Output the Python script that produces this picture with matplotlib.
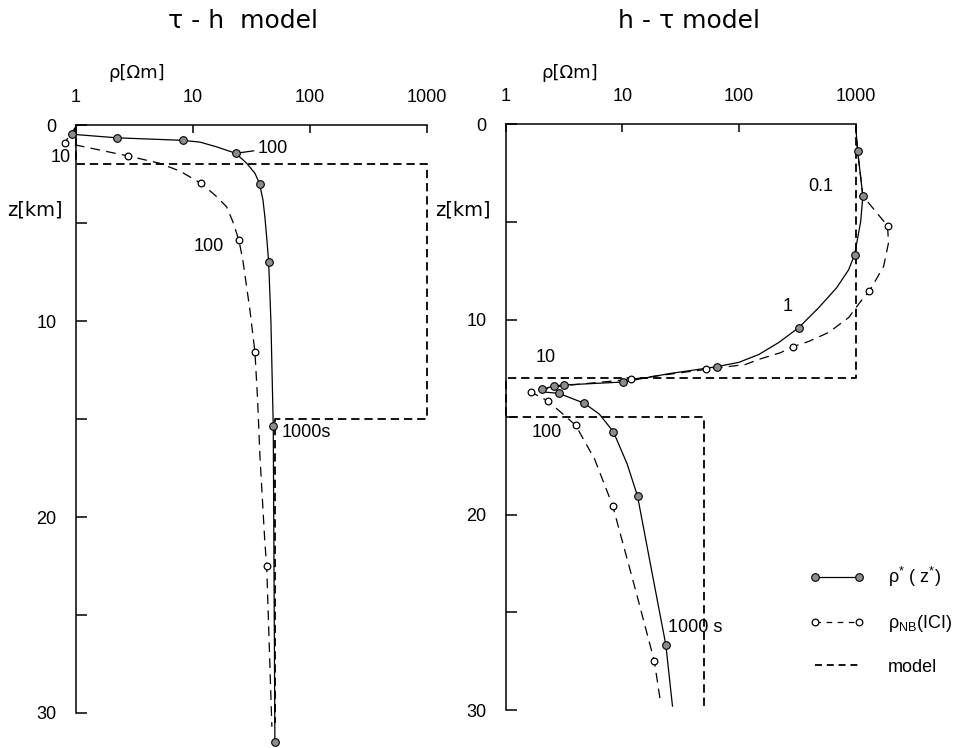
import matplotlib
matplotlib.use("Agg")
import matplotlib.pyplot as plt
import matplotlib.ticker as ticker
from matplotlib.lines import Line2D
from matplotlib.legend_handler import HandlerLine2D

plt.rcParams['font.family'] = ['Liberation Sans', 'DejaVu Sans']
plt.rcParams['mathtext.fontset'] = 'custom'
plt.rcParams['mathtext.rm'] = 'Liberation Sans'
plt.rcParams['mathtext.it'] = 'Liberation Sans'
plt.rcParams['lines.scale_dashes'] = False

# --- tau-h model (left panel) ---
th_model_rho = [1, 1, 1000, 1000, 50, 50]
th_model_z = [0, 2, 2, 15, 15, 30.5]

# rho*(z*) curve and the points at the computed periods
th_star_rho = [1.02, 0.93, 2.23, 8.2, 11.5, 15.9, 23.2, 25.7, 28.8, 33.9, 37.2, 39.7, 41.2,
               42.9, 44.4, 46.4, 48.6, 50.2]
th_star_z = [0.0, 0.47, 0.65, 0.78, 0.87, 1.11, 1.44, 1.68, 1.95, 2.46, 3.01, 3.83, 4.68,
             5.87, 6.99, 10.0, 15.36, 31.5]
th_star_pts_rho = [0.93, 2.23, 8.2, 23.2, 37.2, 44.4, 48.6, 50.2]
th_star_pts_z = [0.47, 0.65, 0.78, 1.44, 3.01, 6.99, 15.36, 31.5]

# rho_NB(ICI) curve
th_nb_rho = [1.02, 0.80, 2.80, 5.2, 7.74, 11.7, 15.4, 19.4, 22.0, 24.7, 26.7, 30.7, 33.9,
             35.7, 37.4, 41.2, 42.7, 47.3]
th_nb_z = [0.0, 0.90, 1.58, 1.95, 2.35, 2.97, 3.57, 4.17, 4.95, 5.87, 6.89, 9.44, 11.6,
           14.0, 16.9, 21.3, 22.5, 30.7]
th_nb_pts_rho = [0.80, 2.80, 11.7, 24.7, 33.9, 42.7]
th_nb_pts_z = [0.90, 1.58, 2.97, 5.87, 11.6, 22.5]

# --- h-tau model (right panel) ---
ht_model_rho = [1000, 1000, 1, 1, 50, 50]
ht_model_z = [0, 13, 13, 15, 15, 29.8]

ht_star_rho = [1000, 1040, 1154, 1104, 980, 871, 688, 483, 326, 220, 148, 100, 65.3, 25.2,
               10.1, 3.19, 2.59, 2.06, 2.2, 2.85, 4.73, 6.36, 8.38, 11.0, 13.5, 17.7, 23.6, 26.9]
ht_star_z = [0, 1.36, 3.67, 5.0, 6.68, 7.45, 8.37, 9.39, 10.41, 11.17, 11.79, 12.19, 12.41, 12.77,
             13.2, 13.35, 13.4, 13.57, 13.72, 13.78, 14.29, 14.85, 15.75, 17.4, 19.05, 22.76,
             26.67, 29.8]
ht_star_pts_rho = [1040, 1154, 980, 326, 65.3, 10.1, 3.19, 2.59, 2.06, 2.85, 4.73, 8.38, 13.5, 23.6]
ht_star_pts_z = [1.36, 3.67, 6.68, 10.41, 12.41, 13.2, 13.35, 13.4, 13.57, 13.78, 14.29, 15.75,
                 19.05, 26.67]

ht_nb_rho = [1000, 1040, 1154, 1878, 1914, 1738, 1309, 1095, 871, 588, 396, 291, 227, 148, 114,
             52.6, 11.9, 3.0, 1.64, 2.30, 3.97, 5.77, 8.26, 12.9, 18.8, 21.0]
ht_nb_z = [0, 1.36, 3.67, 5.2, 6.07, 7.28, 8.56, 9.1, 9.9, 10.66, 11.12, 11.39, 11.7, 12.04, 12.3,
           12.55, 13.06, 13.4, 13.71, 14.17, 15.41, 17.14, 19.53, 23.8, 27.5, 29.4]
ht_nb_pts_rho = [1878, 1309, 291, 52.6, 11.9, 1.64, 2.30, 3.97, 8.26, 18.8]
ht_nb_pts_z = [5.2, 8.56, 11.39, 12.55, 13.06, 13.71, 14.17, 15.41, 19.53, 27.5]

x_ticks = [1, 10, 100, 1000]
x_tick_labels = ['1', '10', '100', '1000']
z_ticks = [0, 10, 20, 30]
z_minor = [5, 15, 25]

GREY = '#8c8c8c'
solid_kw = dict(color='k', lw=0.9, clip_on=False, zorder=3)
dash_kw = dict(color='k', lw=0.9, dashes=(7, 4.5), clip_on=False, zorder=3)
model_kw = dict(color='k', lw=1.3, dashes=(6, 3.5), clip_on=False, zorder=2)
star_mk = dict(ls='none', marker='o', ms=5.5, mfc=GREY, mec='k', mew=0.8, clip_on=False, zorder=4)
nb_mk = dict(ls='none', marker='o', ms=4.8, mfc='white', mec='k', mew=0.9, clip_on=False, zorder=4)


def style_axes(ax):
    ax.set_xscale('log')
    ax.set_xlim(1, 1000)
    ax.set_ylim(30, 0)
    ax.spines['right'].set_visible(False)
    ax.spines['bottom'].set_visible(False)
    for s in ('top', 'left'):
        ax.spines[s].set_linewidth(1.1)
    ax.xaxis.tick_top()
    ax.set_xticks(x_ticks)
    ax.set_xticklabels(x_tick_labels)
    ax.xaxis.set_minor_locator(ticker.NullLocator())
    ax.set_yticks(z_ticks)
    ax.set_yticklabels([str(v) for v in z_ticks])
    ax.set_yticks(z_minor, minor=True)
    ax.tick_params(axis='x', which='major', direction='in', length=6, width=1.1,
                   pad=14, labelsize=13)
    ax.tick_params(axis='y', which='both', direction='in', length=8, width=1.1,
                   pad=14, labelsize=13)
    ax.patch.set_visible(False)


fig = plt.figure(figsize=(9.56, 7.48), dpi=100)
ax1 = fig.add_axes([0.0795, 0.0468, 0.367, 0.786])
ax2 = fig.add_axes([0.529, 0.0508, 0.366, 0.783])

for ax in (ax1, ax2):
    style_axes(ax)

# left panel
ax1.plot(th_model_rho, th_model_z, **model_kw)
ax1.plot(th_nb_rho, th_nb_z, **dash_kw)
ax1.plot(th_star_rho, th_star_z, **solid_kw)
ax1.plot(th_nb_pts_rho, th_nb_pts_z, **nb_mk)
ax1.plot(th_star_pts_rho, th_star_pts_z, **star_mk)

ax1.text(0.744, 1.68, '10', fontsize=13, ha='center', va='center', clip_on=False)
ax1.annotate('100', xy=(th_star_pts_rho[3], th_star_pts_z[3]), xytext=(36, 1.18),
             fontsize=13, ha='left', va='center',
             arrowprops=dict(arrowstyle='-', lw=0.9, shrinkA=1, shrinkB=3))
ax1.text(13.7, 6.22, '100', fontsize=13, ha='center', va='center')
ax1.text(57.6, 15.7, '1000s', fontsize=13, ha='left', va='center')

# right panel
ax2.plot(ht_model_rho, ht_model_z, **model_kw)
ax2.plot(ht_nb_rho, ht_nb_z, **dash_kw)
ax2.plot(ht_star_rho, ht_star_z, **solid_kw)
ax2.plot(ht_nb_pts_rho, ht_nb_pts_z, **nb_mk)
ax2.plot(ht_star_pts_rho, ht_star_pts_z, **star_mk)

ax2.text(502, 3.21, '0.1', fontsize=13, ha='center', va='center')
ax2.text(262, 9.34, '1', fontsize=13, ha='center', va='center')
ax2.text(2.2, 11.94, '10', fontsize=13, ha='center', va='center')
ax2.text(2.24, 15.77, '100', fontsize=13, ha='center', va='center')
ax2.text(24.7, 25.77, '1000 s', fontsize=13, ha='left', va='center')

# titles and axis names
fig.text(0.254, 0.972, 'τ - h  model', fontsize=18, ha='center', va='center',
         family='DejaVu Sans')
fig.text(0.721, 0.972, 'h - τ model', fontsize=18, ha='center', va='center',
         family='DejaVu Sans')
fig.text(0.143, 0.902, 'ρ[Ωm]', fontsize=13, ha='center', va='center', family='DejaVu Sans')
fig.text(0.596, 0.902, 'ρ[Ωm]', fontsize=13, ha='center', va='center', family='DejaVu Sans')
fig.text(0.037, 0.719, 'z[km]', fontsize=14, ha='center', va='center', family='DejaVu Sans')
fig.text(0.484, 0.719, 'z[km]', fontsize=14, ha='center', va='center', family='DejaVu Sans')

handles = [
    Line2D([], [], color='k', lw=0.9, marker='o', ms=5.5, mfc=GREY, mec='k', mew=0.8),
    Line2D([], [], color='k', lw=0.9, dashes=(4, 4), marker='o', ms=4.8, mfc='white', mec='k', mew=0.9),
    Line2D([], [], color='k', lw=1.3, dashes=(5, 3.5)),
]
labels = [r'ρ$^{*}$ ( z$^{*}$)', r'ρ$_{\mathrm{NB}}$(ICI)', 'model']
fig.legend(handles, labels, loc='upper left', bbox_to_anchor=(0.852, 0.245),
           frameon=False, numpoints=2, handlelength=2.45, handletextpad=1.6,
           labelspacing=1.35, fontsize=13, borderpad=0, borderaxespad=0,
           handler_map={h: HandlerLine2D(marker_pad=0) for h in handles})

fig.savefig('out.png', dpi=100)
